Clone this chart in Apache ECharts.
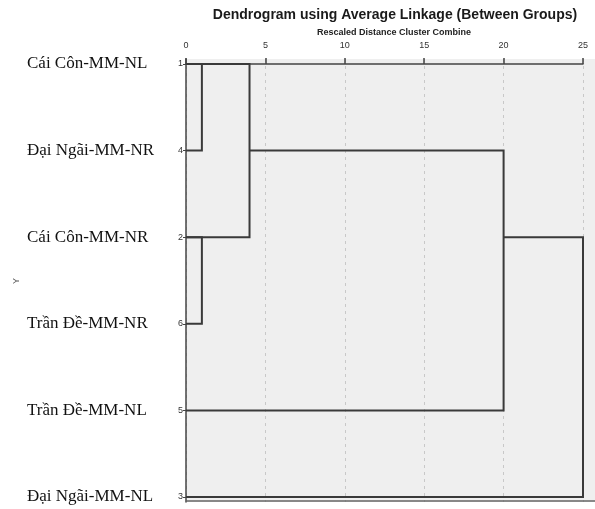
<!DOCTYPE html>
<html><head><meta charset="utf-8">
<script src="https://cdn.jsdelivr.net/npm/echarts@6/dist/echarts.min.js"></script>
<style>html,body{margin:0;padding:0;background:#fff}#c{width:595px;height:509px}</style>
</head><body><div id="c"></div>
<script>
// leaves, top to bottom
const leafNames = ['Cái Côn-MM-NL', 'Đại Ngãi-MM-NR', 'Cái Côn-MM-NR', 'Trần Đề-MM-NR', 'Trần Đề-MM-NL', 'Đại Ngãi-MM-NL'];
const caseIds = [1, 4, 2, 6, 5, 3];
const xTicks = [0, 5, 10, 15, 20, 25];
// merges (row indices), rescaled distance, start x of top/bottom branch
const mergeTop = [0, 2, 0, 1, 2];
const mergeBottom = [1, 3, 2, 4, 5];
const mergeDist = [1, 1, 4, 20, 25];
const topStart = [0, 0, 0, 4, 20];
const bottomStart = [0, 0, 0, 0, 0];

const lineData = mergeDist.map((h, i) => ({
  coords: [[topStart[i], mergeTop[i]], [h, mergeTop[i]], [h, mergeBottom[i]], [bottomStart[i], mergeBottom[i]]]
}));

const chart = echarts.init(document.getElementById('c'), null, {renderer: 'canvas'});
chart.setOption({
  animation: false,
  grid: {left: 186, right: 12, top: 59, bottom: 7, show: true, backgroundColor: '#efefef', borderWidth: 0,
    containLabel: false, outerBoundsMode: 'none'},
  graphic: [
    {type: 'rect', z: -1, shape: {x: 583, y: 59, width: 12, height: 443}, style: {fill: '#efefef'}},
    {type: 'line', z: 1, shape: {x1: 186, y1: 501, x2: 595, y2: 501}, style: {stroke: '#666', lineWidth: 1.5}},
    {type: 'text', style: {text: 'Dendrogram using Average Linkage (Between Groups)', x: 395, y: 15, align: 'center', verticalAlign: 'middle',
      font: 'bold 14px "Liberation Sans", Arial, sans-serif', fill: '#1a1a1a'}},
    {type: 'text', style: {text: 'Rescaled Distance Cluster Combine', x: 394, y: 33, align: 'center', verticalAlign: 'middle',
      font: 'bold 9px "Liberation Sans", Arial, sans-serif', fill: '#222'}},
    {type: 'text', x: 17, y: 281, rotation: Math.PI / 2, style: {text: 'Y', x: 0, y: 0, align: 'center', verticalAlign: 'middle',
      font: '9px "Liberation Sans", Arial, sans-serif', fill: '#555'}}
  ],
  xAxis: {
    type: 'value', position: 'top', min: xTicks[0], max: xTicks[xTicks.length - 1], interval: 5,
    axisLine: {show: true, lineStyle: {color: '#444', width: 1.5}},
    axisTick: {show: true, length: 6, lineStyle: {color: '#444', width: 1.5}},
    axisLabel: {margin: 9, fontSize: 9, color: '#333', fontFamily: '"Liberation Sans", Arial, sans-serif'},
    splitLine: {show: true, lineStyle: {type: [3, 4], color: '#c8c8c8', width: 1}}
  },
  yAxis: {
    type: 'value', inverse: true, min: -0.0577, max: 5.0577,
    axisLine: {show: true, lineStyle: {color: '#444', width: 1.5}},
    axisTick: {show: true, length: 3, customValues: [0, 1, 2, 3, 4, 5], lineStyle: {color: '#444'}},
    splitLine: {show: false},
    axisLabel: {
      margin: 3, customValues: [0, 1, 2, 3, 4, 5],
      formatter: v => '{n|' + leafNames[Math.round(v)] + '}{i|' + caseIds[Math.round(v)] + '}',
      rich: {
        n: {width: 151, align: 'left', fontSize: 17, color: '#111', fontFamily: '"Liberation Serif", "Times New Roman", serif'},
        i: {fontSize: 9, color: '#333', fontFamily: '"Liberation Sans", Arial, sans-serif'}
      }
    }
  },
  series: [{
    type: 'lines', coordinateSystem: 'cartesian2d', polyline: true,
    lineStyle: {color: '#3a3a3a', width: 2, opacity: 1},
    data: lineData
  }]
});
</script></body></html>
